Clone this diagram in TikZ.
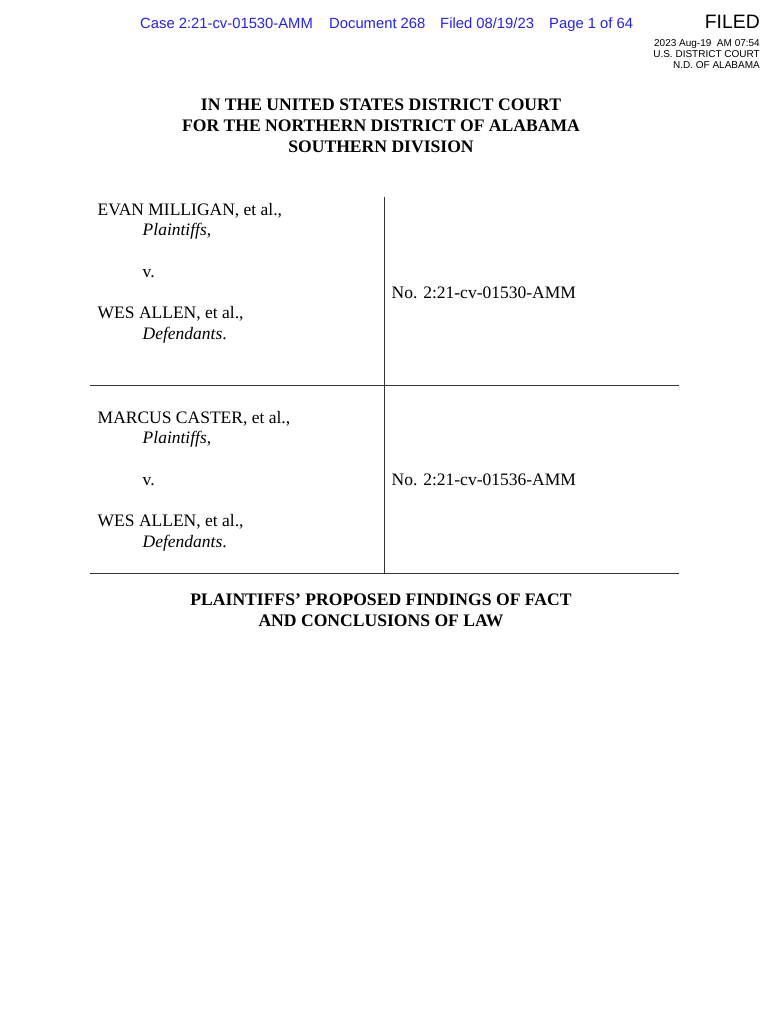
\documentclass[tikz,border=0pt]{standalone}
\usepackage{fontspec}
\setmainfont{Liberation Serif}
\newfontfamily\hdfont{Liberation Sans}
\definecolor{stampblue}{RGB}{35,35,240}

\begin{document}
\begin{tikzpicture}[x=1pt,y=-1pt,
    body/.style={inner sep=0pt,anchor=base west,font=\fontsize{17.5}{21}\selectfont},
    head/.style={inner sep=0pt,anchor=base,font=\fontsize{17.6}{21}\selectfont\bfseries},
    hdr/.style={inner sep=0pt,anchor=base west,text=stampblue,font=\hdfont\fontsize{14.8}{18}\selectfont},
    stamp/.style={inner sep=0pt,anchor=base east,font=\hdfont\fontsize{10}{11}\selectfont},
    rule/.style={line width=1pt,black!80}]

          \useasboundingbox[fill=white] (0,0) rectangle (770,1024); %用紙

          \node[hdr] (case) at (140,28.3) {Case 2:21-cv-01530-AMM}; %事件番号
          \node[hdr] (doc) at (329,28.3) {Document 268}; %文書番号
          \node[hdr] (filed) at (440,28.3) {Filed 08/19/23}; %提出日
          \node[hdr] (page) at (549,28.3) {Page 1 of 64}; %頁
          \node[stamp,font=\hdfont\fontsize{19.4}{22}\selectfont] (FILED) at (760,28.3) {FILED}; %受付印
          \node[stamp] (date) at (760,46.5) {2023 Aug-19\ \ AM 07:54}; %日時
          \node[stamp] (court) at (760,57.5) {U.S. DISTRICT COURT}; %裁判所
          \node[stamp] (dist) at (760,68.5) {N.D. OF ALABAMA}; %地区

          \node[head] (h1) at (381,110.5) {IN THE UNITED STATES DISTRICT COURT}; %見出し1
          \node[head] (h2) at (381,131.5) {FOR THE NORTHERN DISTRICT OF ALABAMA}; %見出し2
          \node[head] (h3) at (381,152.5) {SOUTHERN DIVISION}; %見出し3

          \coordinate (VT) at (384.5,197); %縦線上端
          \coordinate (VB) at (384.5,573); %縦線下端
          \coordinate (AL) at (90,385); %横線1左
          \coordinate (AR) at (679,385); %横線1右
          \coordinate (BL) at (90,573); %横線2左
          \coordinate (BR) at (679,573); %横線2右
          \draw[rule] (VT)--(VB); %縦線
          \draw[rule] (AL)--(AR); %横線1
          \draw[rule] (BL)--(BR); %横線2

          \node[body] (pA) at (97.5,215) {EVAN MILLIGAN, et al.,}; %原告1
          \node[body] (pAr) at (142.5,235.5) {\textit{Plaintiffs},};
          \node[body] (vA) at (142.5,277) {v.};
          \node[body] (dA) at (97.5,318) {WES ALLEN, et al.,}; %被告1
          \node[body] (dAr) at (142.5,339) {\textit{Defendants}.};
          \node[body] (noA) at (391.5,298.3) {No. 2:21-cv-01530-AMM}; %番号1

          \node[body] (pB) at (97.5,423) {MARCUS CASTER, et al.,}; %原告2
          \node[body] (pBr) at (142.5,443.5) {\textit{Plaintiffs},};
          \node[body] (vB) at (142.5,485) {v.};
          \node[body] (dB) at (97.5,526) {WES ALLEN, et al.,}; %被告2
          \node[body] (dBr) at (142.5,547) {\textit{Defendants}.};
          \node[body] (noB) at (391.5,485) {No. 2:21-cv-01536-AMM}; %番号2

          \node[head] (t1) at (381,605.5) {PLAINTIFFS’ PROPOSED FINDINGS OF FACT}; %表題1
          \node[head] (t2) at (381,626.5) {AND CONCLUSIONS OF LAW}; %表題2

        \end{tikzpicture}
\end{document}
